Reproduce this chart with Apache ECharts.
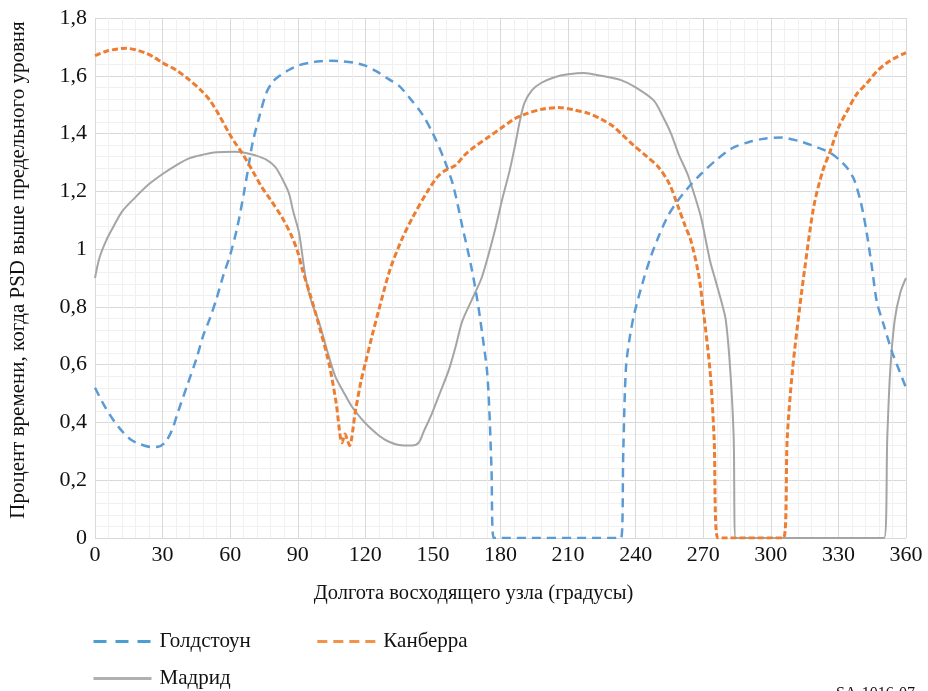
<!DOCTYPE html>
<html><head><meta charset="utf-8">
<script src="https://cdn.jsdelivr.net/npm/echarts@6/dist/echarts.min.js"></script>
<style>html,body{margin:0;padding:0;background:#fff}#c{width:928px;height:691px}</style>
</head><body><div id="c"></div>
<script>
const seriesNames = ['Голдстоун', 'Канберра', 'Мадрид'];
const xTicks = [0, 30, 60, 90, 120, 150, 180, 210, 240, 270, 300, 330, 360];
const yTicks = [0, 0.2, 0.4, 0.6, 0.8, 1, 1.2, 1.4, 1.6, 1.8];

const goldstone = [[0,0.52],[4,0.46],[8,0.41],[12,0.37],[16,0.34],[20,0.325],[25,0.315],[28,0.316],[31,0.33],[34,0.37],[37,0.44],[41,0.53],[45,0.62],[48,0.70],[51,0.76],[54,0.83],[57,0.91],[60,0.98],[63,1.07],[66,1.19],[68,1.28],[70,1.37],[73,1.46],[76,1.54],[79,1.58],[82,1.60],[86,1.62],[90,1.635],[95,1.645],[100,1.65],[105,1.652],[110,1.65],[115,1.645],[120,1.635],[125,1.615],[130,1.59],[135,1.565],[140,1.52],[145,1.47],[150,1.40],[155,1.31],[159,1.22],[163,1.08],[167,0.94],[170,0.81],[172,0.70],[174,0.58],[175,0.45],[176,0.24],[177,0],[233.5,0],[234.5,0.3],[235.7,0.59],[237.5,0.70],[239.5,0.78],[243.7,0.9],[247,0.98],[250,1.04],[254,1.11],[258,1.16],[263,1.21],[269,1.26],[276,1.31],[283,1.35],[290,1.37],[297,1.382],[305,1.386],[312,1.375],[318,1.36],[323,1.345],[327,1.33],[331,1.305],[334,1.28],[337,1.24],[340,1.16],[342.5,1.06],[345,0.93],[347,0.82],[350,0.74],[354,0.64],[357,0.58],[360,0.52]];

const canberra = [[0,1.67],[5,1.685],[10,1.693],[14,1.695],[18,1.69],[22,1.68],[26,1.665],[30,1.645],[36,1.62],[42,1.585],[47,1.55],[51,1.515],[55,1.465],[59.6,1.40],[62,1.37],[65.5,1.33],[70,1.27],[74,1.215],[78,1.17],[83,1.11],[87,1.05],[90,0.99],[92,0.93],[96,0.83],[100,0.72],[104,0.6],[107,0.47],[109.7,0.33],[111,0.36],[112,0.34],[113,0.32],[115.6,0.44],[118,0.54],[120,0.605],[123,0.70],[126,0.79],[131,0.93],[136,1.03],[141,1.11],[148,1.205],[152,1.25],[155,1.27],[160,1.29],[164,1.325],[168.6,1.355],[175,1.39],[180.5,1.42],[186,1.45],[192,1.47],[199,1.485],[205.6,1.49],[212,1.483],[219,1.47],[224.7,1.45],[230,1.425],[233.5,1.40],[239,1.36],[245,1.32],[250,1.285],[255,1.225],[258.7,1.15],[262,1.08],[264.5,1.03],[268,0.91],[270,0.79],[273,0.58],[274.8,0.35],[276.5,0],[305.6,0],[307.3,0.35],[309.6,0.58],[313,0.81],[315,0.93],[319,1.145],[323,1.27],[326.4,1.34],[330,1.42],[334,1.48],[338,1.535],[342.7,1.575],[347,1.615],[351.6,1.645],[356,1.665],[360,1.68]];

const madrid = [[0,0.9],[2,0.97],[5,1.03],[8,1.075],[12,1.13],[18,1.18],[24,1.225],[30,1.26],[36,1.29],[42,1.315],[48,1.327],[54,1.335],[62,1.337],[67,1.333],[71,1.325],[76,1.31],[80,1.285],[83,1.245],[86,1.195],[88,1.13],[90.6,1.055],[93.5,0.90],[96,0.82],[99.5,0.745],[103,0.65],[106.6,0.56],[110,0.51],[114,0.455],[118,0.415],[121.6,0.385],[126,0.355],[130,0.335],[135,0.322],[140.6,0.32],[143.7,0.33],[146,0.37],[149.5,0.43],[153,0.5],[157,0.58],[160,0.66],[163,0.75],[167,0.82],[171.6,0.90],[175,0.99],[178,1.08],[181,1.18],[184,1.27],[186.5,1.36],[188.5,1.44],[190.6,1.505],[194,1.55],[198,1.575],[204,1.595],[210,1.605],[217,1.61],[224.7,1.60],[233.5,1.585],[240,1.56],[248,1.515],[252,1.46],[255.7,1.40],[259,1.33],[263,1.26],[266,1.19],[269,1.11],[273,0.96],[275.5,0.89],[278,0.82],[280,0.755],[282,0.58],[283.5,0.35],[284.4,0],[350.3,0],[351.7,0.35],[353,0.58],[355,0.755],[357.5,0.85],[360,0.9]];

const FONT = 'Liberation Serif';
const chart = echarts.init(document.getElementById('c'), null, {renderer: 'canvas'});
const legendCommon = {itemWidth: 58, itemHeight: 14, padding: 0, itemStyle: {opacity: 0},
  lineStyle: {width: 3},
  textStyle: {fontFamily: FONT, fontSize: 21, color: '#111', padding: [0, 0, 0, 3]}};
chart.setOption({
  backgroundColor: '#ffffff',
  animation: false,
  grid: {left: 92, right: 22, top: 18, bottom: 153, containLabel: false},
  xAxis: {
    type: 'value', min: xTicks[0], max: xTicks[xTicks.length - 1], interval: 30,
    name: 'Долгота восходящего узла (градусы)', nameLocation: 'middle', nameGap: 45,
    nameTextStyle: {fontFamily: FONT, fontSize: 20.5, color: '#111', padding: [0, 54, 0, 0]},
    axisLine: {show: false}, axisTick: {show: false},
    axisLabel: {fontFamily: FONT, fontSize: 22, color: '#111', margin: 6},
    splitLine: {show: true, lineStyle: {color: '#d9d9d9', width: 1}},
    minorTick: {show: false, splitNumber: 5},
    minorSplitLine: {show: true, lineStyle: {color: '#f0f0f0', width: 1}}
  },
  yAxis: {
    type: 'value', min: yTicks[0], max: yTicks[yTicks.length - 1], interval: 0.2,
    name: 'Процент времени, когда PSD выше предельного уровня', nameLocation: 'middle', nameGap: 66,
    nameTextStyle: {fontFamily: FONT, fontSize: 21, color: '#111', padding: [0, 0, 0, 16]},
    axisLine: {show: false}, axisTick: {show: false},
    axisLabel: {fontFamily: FONT, fontSize: 22, color: '#111', margin: 8,
      formatter: v => String(Math.round(v * 10) / 10).replace('.', ',')},
    splitLine: {show: true, lineStyle: {color: '#d9d9d9', width: 1}},
    minorTick: {show: false, splitNumber: 5},
    minorSplitLine: {show: true, lineStyle: {color: '#f0f0f0', width: 1}}
  },
  legend: [
    Object.assign({data: [
      {name: seriesNames[0], lineStyle: {width: 3, type: [13, 9], color: '#4a9fd0'}},
      {name: seriesNames[1], lineStyle: {width: 3, type: [10, 6], color: '#f0924a'}}
    ], left: 92, top: 631, itemGap: 65}, legendCommon),
    Object.assign({data: [
      {name: seriesNames[2], lineStyle: {width: 3, color: '#b0b0b0'}}
    ], left: 92, top: 668}, legendCommon)
  ],
  series: [
    {name: seriesNames[0], type: 'line', data: goldstone, symbol: 'none', smooth: 0.3,
      lineStyle: {color: '#5b9bd5', width: 2.5, type: [9, 6]}, itemStyle: {color: '#5b9bd5'}, z: 3},
    {name: seriesNames[1], type: 'line', data: canberra, symbol: 'none', smooth: 0.3,
      lineStyle: {color: '#ed7d31', width: 3, type: [6, 3]}, itemStyle: {color: '#ed7d31'}, z: 4},
    {name: seriesNames[2], type: 'line', data: madrid, symbol: 'none', smooth: 0.3,
      lineStyle: {color: '#a5a5a5', width: 2, type: 'solid'}, itemStyle: {color: '#a5a5a5'}, z: 2}
  ],
  graphic: [
    {type: 'text', left: 836, top: 686, style: {text: 'SA-1016-07', font: '16px "Liberation Serif"', fill: '#111'}}
  ]
});
</script></body></html>
